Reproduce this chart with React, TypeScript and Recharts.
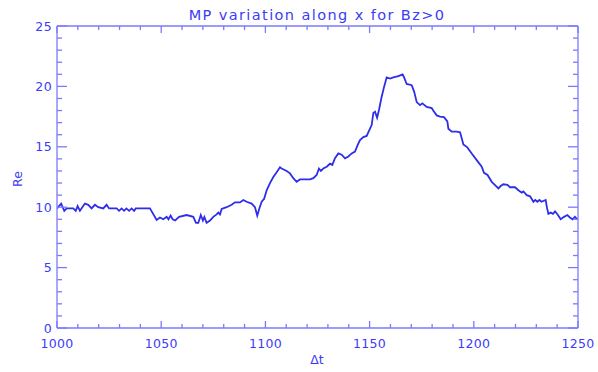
import React from 'react';
import { LineChart, Line, XAxis, YAxis } from 'recharts';

const tValues = [
  1000, 1002, 1003.5, 1004.6, 1007.8, 1009, 1009.9, 1011, 1013.4, 1015, 1016.6, 1018.2, 1019.8, 1022.2, 1023.8, 1025,
  1028.6, 1029.8, 1031, 1032.2, 1033.3, 1034.6, 1035.8, 1037, 1037.8, 1044.6, 1047.8, 1049.4, 1051, 1052.6, 1053.5,
  1054.5, 1055.5, 1056.7, 1058.6, 1062.2, 1065.4, 1066.7, 1067.8, 1069, 1070, 1070.7, 1071.8, 1073.4, 1075, 1076.6,
  1077.4, 1078.2, 1079, 1081.4, 1083.8, 1085.4, 1087.8, 1089.4, 1091, 1093.4, 1095, 1096.1, 1097.1, 1098.2, 1099.4,
  1100.6, 1102.2, 1103.8, 1105.4, 1107, 1107.8, 1110.2, 1111.8, 1113.4, 1115, 1116.6, 1121.4, 1123, 1124.6, 1125.7,
  1126.6, 1127.8, 1129.4, 1131, 1132.1, 1133.4, 1135, 1136.6, 1138.2, 1139.8, 1141.4, 1143, 1144.3, 1145.4, 1147,
  1148.6, 1150.2, 1151, 1151.8, 1152.6, 1153.6, 1154.5, 1155.8, 1157, 1158.2, 1159.8, 1161.4, 1163.8, 1165.8, 1166.4,
  1167.8, 1170.2, 1171.4, 1172.6, 1174.2, 1175.3, 1177.4, 1179.8, 1180.6, 1182.2, 1183.8, 1185.7, 1187.3, 1187.8,
  1189.4, 1191.8, 1193.4, 1194.2, 1195, 1196.9, 1199, 1201.4, 1203.8, 1204.9, 1206.6, 1208.6, 1210.7, 1211.8, 1212.9,
  1214.2, 1216.1, 1217.4, 1219.8, 1221.4, 1223, 1223.8, 1225.4, 1227, 1228.6, 1229.5, 1230.5, 1231.5, 1232.5, 1234.5,
  1235, 1235.8, 1236.9, 1238, 1239, 1240.2, 1241.7, 1243.3, 1244.9, 1246.1, 1247.4, 1248.5, 1249.7,
];

const reValues = [
  9.9, 10.3, 9.7, 9.9, 9.9, 9.7, 10.1, 9.7, 10.3, 10.2, 9.9, 10.2, 10.0, 9.9, 10.2, 9.9,
  9.9, 9.7, 9.9, 9.7, 9.9, 9.7, 9.9, 9.7, 9.9, 9.9, 8.95, 9.15, 9.0, 9.2, 9.0,
  9.3, 9.0, 8.9, 9.2, 9.35, 9.2, 8.7, 8.7, 9.35, 8.9, 9.2, 8.7, 8.9, 9.2, 9.4,
  9.55, 9.4, 9.85, 10.0, 10.2, 10.4, 10.4, 10.6, 10.45, 10.3, 10.0, 9.3, 9.9, 10.45, 10.7,
  11.4, 12.0, 12.5, 12.9, 13.3, 13.2, 13.0, 12.8, 12.4, 12.1, 12.3, 12.3, 12.4, 12.67, 13.2,
  13.0, 13.2, 13.35, 13.6, 13.5, 14.05, 14.45, 14.35, 14.05, 14.2, 14.45, 14.6, 15.15, 15.55, 15.8,
  15.9, 16.5, 16.8, 17.8, 17.9, 17.4, 18.05, 19.15, 20.0, 20.75, 20.65, 20.75, 20.85, 21.0, 20.8,
  20.2, 20.1, 19.55, 18.7, 18.45, 18.6, 18.3, 18.2, 17.98, 17.6, 17.5, 17.45, 17.1, 16.5,
  16.25, 16.25, 16.2, 15.7, 15.2, 14.95, 14.45, 13.9, 13.35, 12.85, 12.67, 12.1, 11.75, 11.55, 11.75,
  11.9, 11.85, 11.65, 11.65, 11.4, 11.2, 11.3, 11.0, 10.9, 10.45, 10.6, 10.45, 10.6, 10.45, 10.6,
  10.05, 9.45, 9.55, 9.45, 9.65, 9.4, 9.0, 9.2, 9.35, 9.15, 9.0, 9.2, 9.0,
];

const xTicks = [1000, 1010, 1020, 1030, 1040, 1050, 1060, 1070, 1080, 1090, 1100, 1110, 1120, 1130, 1140, 1150,
  1160, 1170, 1180, 1190, 1200, 1210, 1220, 1230, 1240, 1250];
const yTicks = [0, 1, 2, 3, 4, 5, 6, 7, 8, 9, 10, 11, 12, 13, 14, 15, 16, 17, 18, 19, 20, 21, 22, 23, 24, 25];

const title = 'MP variation along x for Bz>0';
const xLabel = 'Δt';
const yLabel = 'Re';

const data = tValues.map((t, i) => ({ t, re: reValues[i] }));

const AXIS = '#7a7aff';
const TEXT = '#3c3cf8';
const LINE = '#2e2eea';
const FONT = '"DejaVu Sans", sans-serif';

const YTick = (props: any) => {
  const { x, y, payload, side } = props;
  const v = payload.value;
  const major = v % 5 === 0;
  const len = major ? 10 : 5;
  const dir = side === 'left' ? 1 : -1;
  return (
    <g>
      <line x1={x} y1={y} x2={x + dir * len} y2={y} stroke={AXIS} strokeWidth={1.3} />
      {major && side === 'left' ? (
        <text x={x - 5} y={y + 4.5} textAnchor="end" fill={TEXT} fontFamily={FONT} fontSize={12.5} letterSpacing={0.4}>
          {v}
        </text>
      ) : null}
    </g>
  );
};

const XTick = (props: any) => {
  const { x, y, payload, side } = props;
  const v = payload.value;
  const major = v % 50 === 0;
  const len = major ? 7 : 4;
  const dir = side === 'bottom' ? -1 : 1;
  return (
    <g>
      <line x1={x} y1={y} x2={x} y2={y + dir * len} stroke={AXIS} strokeWidth={1.3} />
      {major && side === 'bottom' ? (
        <text x={x} y={y + 20} textAnchor="middle" fill={TEXT} fontFamily={FONT} fontSize={12.5} letterSpacing={0.3}>
          {v}
        </text>
      ) : null}
    </g>
  );
};

export default function App() {
  return (
    <div style={{ position: 'absolute', left: 0, top: 0, width: 598, height: 372, background: '#fff' }}>
      <LineChart width={598} height={372} data={data} margin={{ top: 25, right: 19, bottom: 43, left: 56 }}>
        <XAxis
          xAxisId="b"
          dataKey="t"
          type="number"
          domain={[1000, 1250]}
          ticks={xTicks}
          interval={0}
          height={1}
          tickSize={0}
          tickMargin={0}
          stroke={AXIS}
          strokeWidth={1.3}
          tick={(p: any) => <XTick {...p} side="bottom" />}
          allowDataOverflow
        />
        <XAxis
          xAxisId="t"
          orientation="top"
          dataKey="t"
          type="number"
          domain={[1000, 1250]}
          ticks={xTicks}
          interval={0}
          height={1}
          tickSize={0}
          tickMargin={0}
          stroke={AXIS}
          strokeWidth={1.3}
          tick={(p: any) => <XTick {...p} side="top" />}
          allowDataOverflow
        />
        <YAxis
          yAxisId="l"
          type="number"
          domain={[0, 25]}
          ticks={yTicks}
          interval={0}
          width={1}
          tickSize={0}
          tickMargin={0}
          stroke={AXIS}
          strokeWidth={1.3}
          tick={(p: any) => <YTick {...p} side="left" />}
          allowDataOverflow
        />
        <YAxis
          yAxisId="r"
          orientation="right"
          type="number"
          domain={[0, 25]}
          ticks={yTicks}
          interval={0}
          width={1}
          tickSize={0}
          tickMargin={0}
          stroke={AXIS}
          strokeWidth={1.3}
          tick={(p: any) => <YTick {...p} side="right" />}
          allowDataOverflow
        />
        <Line
          xAxisId="t"
          yAxisId="r"
          dataKey="re"
          stroke="none"
          dot={false}
          activeDot={false}
          isAnimationActive={false}
        />
        <Line
          xAxisId="b"
          yAxisId="l"
          type="linear"
          dataKey="re"
          stroke={LINE}
          strokeWidth={1.8}
          dot={false}
          activeDot={false}
          isAnimationActive={false}
        />
      </LineChart>
      <svg width={598} height={372} style={{ position: 'absolute', left: 0, top: 0, pointerEvents: 'none' }}>
        <text x={317} y={20} textAnchor="middle" fill={TEXT} fontFamily={FONT} fontSize={14.5} letterSpacing={1.4}>
          {title}
        </text>
        <text x={317} y={364} textAnchor="middle" fill={TEXT} fontFamily={FONT} fontSize={12.5}>
          {xLabel}
        </text>
        <text
          x={22}
          y={179}
          textAnchor="middle"
          fill={TEXT}
          fontFamily={FONT}
          fontSize={12.5}
          transform="rotate(-90 22 179)"
        >
          {yLabel}
        </text>
      </svg>
    </div>
  );
}
